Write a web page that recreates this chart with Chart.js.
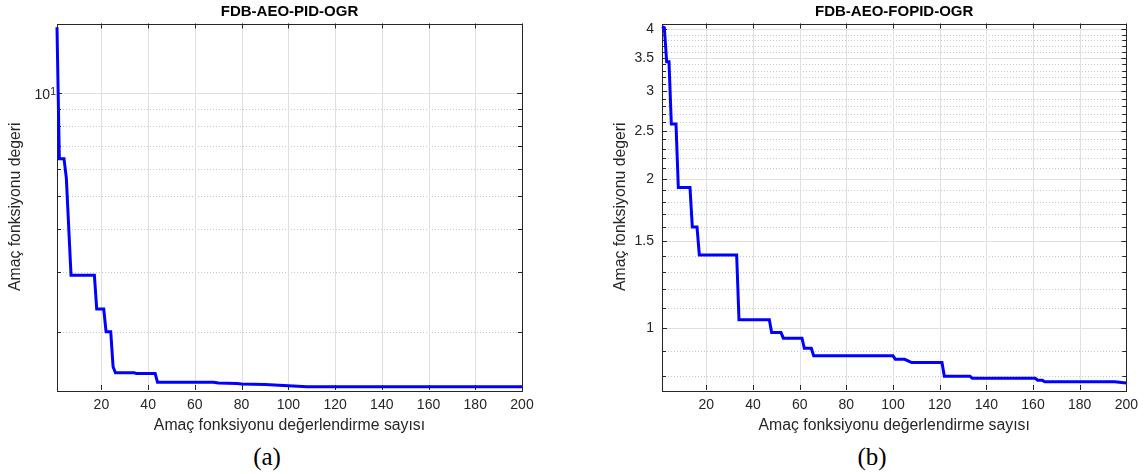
<!DOCTYPE html>
<html lang="tr">
<head>
<meta charset="utf-8">
<title>FDB-AEO yakınsama</title>
<script src="https://cdn.jsdelivr.net/npm/chart.js@4.4.1/dist/chart.umd.min.js"></script>
<style>
    html, body { margin: 0; padding: 0; background: #fff; }
    body { width: 1145px; height: 474px; position: relative; overflow: hidden; }
    .panel { position: absolute; top: 0; height: 440px; }
    #panelA { left: 0; width: 560px; }
    #panelB { left: 605px; width: 540px; }
    .caption {
        position: absolute;
        top: 444px;
        line-height: 25px;
        font-family: 'Liberation Serif', 'Times New Roman', serif;
        font-size: 25px;
        color: #000;
        transform: translateX(-50%);
        white-space: nowrap;
    }
</style>
</head>
<body>
<div class="panel" id="panelA"><canvas id="chartPid" width="560" height="440"></canvas></div>
<div class="panel" id="panelB"><canvas id="chartFopid" width="540" height="440"></canvas></div>
<div class="caption" style="left:267px">(a)</div>
<div class="caption" style="left:872px">(b)</div>

<script>
// (a) FDB-AEO-PID-OGR convergence
const pidIter = [1, 2, 4, 5, 7, 17, 18, 21, 22, 24, 25, 26, 34, 35, 43, 44, 68, 70, 78, 80, 90, 100, 108, 200];
const pidCost = [15.6, 6.43, 6.43, 5.64, 2.93, 2.93, 2.33, 2.33, 2.0, 2.0, 1.58, 1.516, 1.516, 1.51, 1.51, 1.423, 1.423, 1.415, 1.41, 1.405, 1.40, 1.39, 1.38, 1.38];

// (b) FDB-AEO-FOPID-OGR convergence
const fopidIter = [1, 2, 3, 4, 5, 7, 8, 13, 14, 16, 17, 33, 34, 47, 48, 52, 53, 61, 62, 65, 66, 100, 101, 105, 108, 121, 122, 133, 134, 161, 162, 164, 165, 195, 200];
const fopidCost = [4.05, 4.03, 3.44, 3.44, 2.58, 2.58, 1.92, 1.92, 1.6, 1.6, 1.405, 1.405, 1.04, 1.04, 0.98, 0.98, 0.955, 0.955, 0.911, 0.911, 0.88, 0.88, 0.866, 0.866, 0.853, 0.853, 0.80, 0.80, 0.793, 0.793, 0.786, 0.786, 0.78, 0.78, 0.776];

// axes
const xTicks = [20, 40, 60, 80, 100, 120, 140, 160, 180, 200];
const pidYTicks = [10];
const pidYMinor = [2, 3, 4, 5, 6, 7, 8, 9];
const fopidYTicks = [1, 1.5, 2, 2.5, 3, 3.5, 4];
const fopidYMinor = [0.8, 0.9, 1.1, 1.2, 1.3, 1.4, 1.6, 1.7, 1.8, 1.9, 2.1, 2.2, 2.3, 2.4, 2.6, 2.7, 2.8, 2.9, 3.1, 3.2, 3.3, 3.4, 3.6, 3.7, 3.8, 3.9, 4.1];

const xTitle = 'Amaç fonksiyonu değerlendirme sayısı';
const yTitle = 'Amaç fonksiyonu degeri';

const theme = {
    axis: '#262626',
    grid: '#dfdfdf',
    minor: '#c8c8c8',
    line: '#0000ff',
    font: "'Liberation Sans', Arial, Helvetica, sans-serif"
};

Chart.defaults.font.family = theme.font;
Chart.defaults.color = theme.axis;

// MATLAB-like frame: grid under the data, box with inward ticks on all four sides
const matlabBox = {
    id: 'matlabBox',
    beforeDatasetsDraw(chart, args, opts) {
        const { ctx, chartArea } = chart;
        const { left, right, top, bottom } = chartArea;
        const xs = chart.scales.x;
        const ys = chart.scales.y;
        const px = (v) => Math.round(xs.getPixelForValue(v)) + 0.5;
        const py = (v) => Math.round(ys.getPixelForValue(v)) + 0.5;
        const inY = (v) => v >= ys.min && v <= ys.max;

        ctx.save();
        ctx.lineWidth = 1;

        ctx.strokeStyle = theme.minor;
        ctx.setLineDash([1, 2]);
        opts.yMinor.filter(inY).forEach((v) => hLine(ctx, left, right, py(v)));
        ctx.setLineDash([]);

        ctx.strokeStyle = theme.grid;
        opts.yMajor.filter(inY).forEach((v) => hLine(ctx, left, right, py(v)));
        opts.xMajor.forEach((v) => vLine(ctx, top, bottom, px(v)));

        ctx.strokeStyle = theme.axis;
        ctx.strokeRect(Math.round(left) + 0.5, Math.round(top) + 0.5, Math.round(right - left), Math.round(bottom - top));

        opts.xMajor.forEach((v) => {
            vLine(ctx, top, top + 5, px(v));
            vLine(ctx, bottom - 5, bottom, px(v));
        });
        opts.yMajor.filter(inY).forEach((v) => {
            hLine(ctx, left, left + 5, py(v));
            hLine(ctx, right - 5, right, py(v));
        });
        opts.yMinor.filter(inY).forEach((v) => {
            hLine(ctx, left, left + 4, py(v));
            hLine(ctx, right - 4, right, py(v));
        });
        ctx.restore();
    },
    afterDraw(chart, args, opts) {
        // exponent of the "10" label, drawn smaller and raised like MATLAB does
        if (!opts.exponent) return;
        const { ctx, chartArea } = chart;
        const y = chart.scales.y.getPixelForValue(opts.exponent.base);
        ctx.save();
        ctx.fillStyle = theme.axis;
        ctx.font = `10.5px ${theme.font}`;
        ctx.textAlign = 'left';
        ctx.textBaseline = 'alphabetic';
        ctx.fillText(opts.exponent.text, chartArea.left - 6.8, y + 1.8);
        ctx.restore();
    }
};

function hLine(ctx, x0, x1, y) {
    ctx.beginPath();
    ctx.moveTo(x0, y);
    ctx.lineTo(x1, y);
    ctx.stroke();
}

function vLine(ctx, y0, y1, x) {
    ctx.beginPath();
    ctx.moveTo(x, y0);
    ctx.lineTo(x, y1);
    ctx.stroke();
}

function toPoints(xs, ys) {
    return xs.map((x, i) => ({ x, y: ys[i] }));
}

function buildChart(canvasId, cfg) {
    const ctx = document.getElementById(canvasId).getContext('2d');
    return new Chart(ctx, {
        type: 'line',
        data: {
            datasets: [{
                data: toPoints(cfg.iter, cfg.cost),
                borderColor: theme.line,
                borderWidth: 3,
                pointRadius: 0,
                tension: 0,
                fill: false,
                clip: 3
            }]
        },
        plugins: [matlabBox],
        options: {
            responsive: false,
            animation: false,
            devicePixelRatio: 1,
            layout: { padding: { left: 0, top: 0, bottom: 0, right: cfg.padRight } },
            plugins: {
                legend: { display: false },
                tooltip: { enabled: false },
                title: {
                    display: true,
                    text: cfg.title,
                    fullSize: false,
                    color: '#000',
                    font: { size: 15, weight: 'bold' },
                    padding: { top: 2.4, bottom: 3.1 }
                },
                matlabBox: { xMajor: xTicks, yMajor: cfg.yTicks, yMinor: cfg.yMinor, exponent: cfg.exponent }
            },
            scales: {
                x: {
                    type: 'linear',
                    min: 1,
                    max: 200,
                    bounds: 'data',
                    grid: { display: false, drawTicks: false },
                    border: { display: false },
                    afterBuildTicks: (scale) => { scale.ticks = xTicks.map((v) => ({ value: v })); },
                    afterFit: (scale) => { scale.height = 50; },
                    ticks: { autoSkip: false, maxRotation: 0, padding: 7, font: { size: 14 }, color: theme.axis },
                    title: { display: true, text: xTitle, color: theme.axis, font: { size: 15.8 }, padding: { top: 0, bottom: 4.4 } }
                },
                y: {
                    type: 'logarithmic',
                    min: cfg.yMin,
                    max: cfg.yMax,
                    bounds: 'data',
                    grid: { display: false, drawTicks: false },
                    border: { display: false },
                    afterBuildTicks: (scale) => { scale.ticks = cfg.yTicks.map((v) => ({ value: v })); },
                    afterFit: (scale) => { scale.width = 57; },
                    ticks: {
                        autoSkip: false,
                        padding: cfg.tickPad,
                        labelOffset: cfg.labelOffset,
                        font: { size: 14 },
                        color: theme.axis,
                        callback: cfg.yLabel
                    },
                    title: { display: true, text: yTitle, color: theme.axis, font: { size: 15.8 }, padding: { top: 6, bottom: 0 } }
                }
            }
        }
    });
}

document.addEventListener('DOMContentLoaded', () => {
    buildChart('chartPid', {
        title: 'FDB-AEO-PID-OGR',
        iter: pidIter,
        cost: pidCost,
        yMin: 1.35,
        yMax: 16,
        yTicks: pidYTicks,
        yMinor: pidYMinor,
        yLabel: () => '10',
        exponent: { base: 10, text: '1' },
        tickPad: 7,
        labelOffset: 2,
        padRight: 38
    });

    buildChart('chartFopid', {
        title: 'FDB-AEO-FOPID-OGR',
        iter: fopidIter,
        cost: fopidCost,
        yMin: 0.751,
        yMax: 4.11,
        yTicks: fopidYTicks,
        yMinor: fopidYMinor,
        yLabel: (v) => String(v),
        exponent: null,
        tickPad: 8,
        labelOffset: 0,
        padRight: 17.7
    });
});
</script>
</body>
</html>
